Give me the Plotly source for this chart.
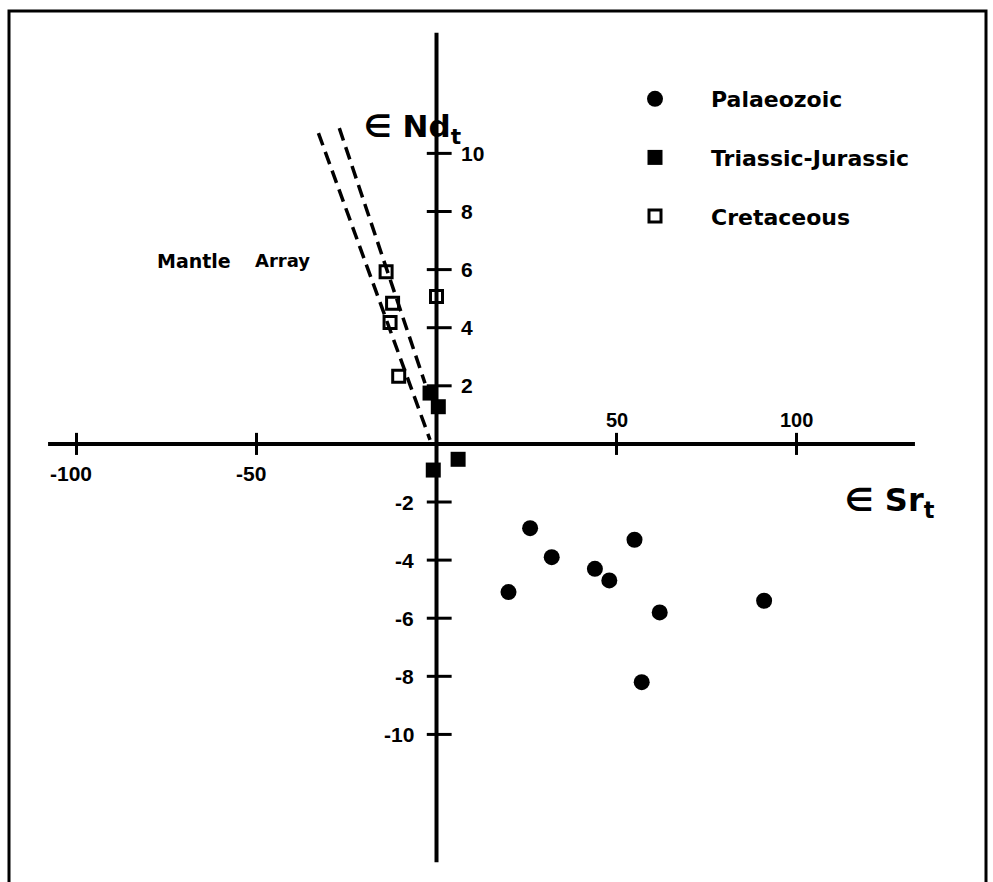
import plotly.graph_objects as go

# εSr(t) / εNd(t) values by age group
palaeozoic_sr = [26, 32, 44, 48, 20, 55, 62, 91, 57]
palaeozoic_nd = [-2.9, -3.9, -4.3, -4.7, -5.1, -3.3, -5.8, -5.4, -8.2]
triassic_jurassic_sr = [-1.8, 0.5, 6.0, -0.9]
triassic_jurassic_nd = [1.75, 1.28, -0.53, -0.9]
cretaceous_sr = [-14.0, -12.2, -12.9, -10.5, 0.0]
cretaceous_nd = [5.93, 4.84, 4.18, 2.33, 5.07]

# Mantle array envelope: two dashed boundary lines
mantle_outer_sr = [-32.8, -1.8]
mantle_outer_nd = [10.7, 0.14]
mantle_inner_sr = [-27.0, -3.2]
mantle_inner_nd = [10.87, 2.09]

# Tick values
sr_ticks_neg = [-100, -50]
sr_ticks_pos = [50, 100]
nd_ticks_pos = [2, 4, 6, 8, 10]
nd_ticks_neg = [-2, -4, -6, -8, -10]

X_RANGE = [-121.25, 154.58]
Y_RANGE = [-15.08, 15.28]
SR_AXIS_SPAN = [-107.9, 132.9]
ND_AXIS_SPAN = [-14.4, 14.15]

TICK_FONT = dict(family="Liberation Sans", size=21, color="black", weight="bold")
TEXT_FONT = dict(family="DejaVu Sans", color="black", weight="bold")

fig = go.Figure()

for sr, nd in ((mantle_outer_sr, mantle_outer_nd), (mantle_inner_sr, mantle_inner_nd)):
    fig.add_trace(go.Scatter(
        x=sr, y=nd, mode="lines", showlegend=False, hoverinfo="skip",
        line=dict(color="black", width=3.5, dash="13px,7px"),
    ))

fig.add_trace(go.Scatter(
    x=palaeozoic_sr, y=palaeozoic_nd, mode="markers", name="Palaeozoic",
    legendgroup="p",
    marker=dict(symbol="circle", size=16, color="black"),
))
fig.add_trace(go.Scatter(
    x=triassic_jurassic_sr, y=triassic_jurassic_nd, mode="markers",
    name="Triassic-Jurassic", legendgroup="tj",
    marker=dict(symbol="square", size=15, color="black"),
))
fig.add_trace(go.Scatter(
    x=cretaceous_sr, y=cretaceous_nd, mode="markers", name="Cretaceous",
    legendgroup="c",
    marker=dict(symbol="square-open", size=12, color="black",
                line=dict(width=3, color="black")),
))

shapes = []
# Crossed axes through the origin
shapes.append(dict(type="line", xref="x", yref="y", x0=SR_AXIS_SPAN[0], x1=SR_AXIS_SPAN[1],
                   y0=0, y1=0, line=dict(color="black", width=4), layer="below"))
shapes.append(dict(type="line", xref="x", yref="y", x0=0, x1=0,
                   y0=ND_AXIS_SPAN[0], y1=ND_AXIS_SPAN[1], line=dict(color="black", width=4),
                   layer="below"))
for t in sr_ticks_neg + sr_ticks_pos:
    shapes.append(dict(type="line", xref="x", yref="y", x0=t, x1=t, y0=-0.38, y1=0.38,
                       line=dict(color="black", width=3), layer="below"))
for t in nd_ticks_pos + nd_ticks_neg:
    shapes.append(dict(type="line", xref="x", yref="y", x0=-2.7, x1=4.2, y0=t, y1=t,
                       line=dict(color="black", width=3), layer="below"))
# Frame
shapes.append(dict(type="rect", xref="paper", yref="paper", x0=9 / 993, x1=986 / 993,
                   y0=-0.05, y1=1 - 11 / 882, line=dict(color="black", width=3)))

annotations = []
for t in sr_ticks_neg:
    annotations.append(dict(x=t - 1.6, y=-1.03, text=str(t), showarrow=False,
                            xanchor="center", yanchor="middle", font=TICK_FONT))
for t in sr_ticks_pos:
    annotations.append(dict(x=t, y=0.81, text=str(t), showarrow=False,
                            xanchor="center", yanchor="middle",
                            font=dict(TICK_FONT, size=20)))
for t in nd_ticks_pos:
    annotations.append(dict(x=6.25, y=t, text=str(t), showarrow=False,
                            xanchor="left", yanchor="middle", font=TICK_FONT))
for t in nd_ticks_neg:
    annotations.append(dict(x=-5.7, y=t, text=str(t), showarrow=False,
                            xanchor="right", yanchor="middle", font=TICK_FONT))

# Axis titles
annotations.append(dict(x=-20.6, y=10.85, text="∈ Nd<sub>t</sub>", showarrow=False,
                        xanchor="left", yanchor="middle", font=dict(TEXT_FONT, size=31)))
annotations.append(dict(x=113.0, y=-2.0, text="∈ Sr<sub>t</sub>", showarrow=False,
                        xanchor="left", yanchor="middle", font=dict(TEXT_FONT, size=32)))
# Mantle array label
annotations.append(dict(x=-78.2, y=6.3, text="Mantle", showarrow=False,
                        xanchor="left", yanchor="middle", font=dict(TEXT_FONT, size=19)))
annotations.append(dict(x=-50.9, y=6.3, text="Array", showarrow=False,
                        xanchor="left", yanchor="middle", font=dict(TEXT_FONT, size=18)))

fig.update_layout(
    width=993, height=882,
    margin=dict(l=0, r=0, t=0, b=0),
    paper_bgcolor="white", plot_bgcolor="white",
    xaxis=dict(range=X_RANGE, visible=False, fixedrange=True),
    yaxis=dict(range=Y_RANGE, visible=False, fixedrange=True),
    shapes=shapes,
    annotations=annotations,
    showlegend=True,
    legend=dict(
        x=599 / 993, xanchor="left", y=1 - 78 / 882, yanchor="top",
        itemwidth=102, tracegroupgap=27, itemsizing="trace",
        bgcolor="rgba(0,0,0,0)",
        font=dict(TEXT_FONT, size=22),
    ),
)

fig.write_html("out.html")
